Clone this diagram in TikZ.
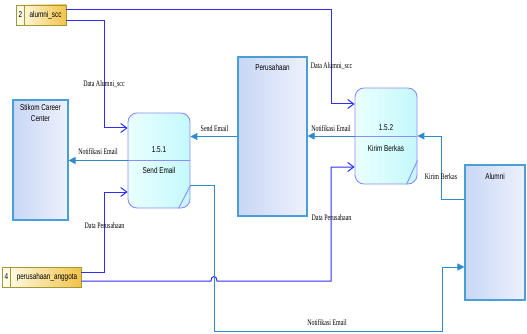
\documentclass[tikz,border=0pt]{standalone}
\usepackage{fontspec}
\newfontfamily\lblfont[FakeStretch=0.7]{Liberation Serif}
\newfontfamily\nfont[FakeStretch=0.75]{Liberation Sans}
\usetikzlibrary{arrows.meta,calc}
\definecolor{entline}{HTML}{4A9FD8}
\definecolor{entA}{HTML}{C8D7F5}
\definecolor{entB}{HTML}{EEF1FC}
\definecolor{procline}{HTML}{8C8CFF}
\definecolor{procA}{HTML}{EAFFFF}
\definecolor{procB}{HTML}{C4F8FC}
\definecolor{dsline}{HTML}{A09A30}
\definecolor{dsA}{HTML}{FFFFF2}
\definecolor{dsB}{HTML}{F2C34A}
\definecolor{dcol}{HTML}{2E2EF8}
\definecolor{ecol}{HTML}{2E8ACB}
\tikzset{
  entity/.style={draw=entline, line width=1.1pt, left color=entA, right color=entB, inner sep=0pt},
  proc/.style={draw=procline, line width=0.9pt, rounded corners=9pt, left color=procA, right color=procB, inner sep=0pt},
  store/.style={draw=dsline, line width=0.9pt, left color=dsA, right color=dsB, inner sep=0pt},
  txt/.style={font=\nfont\fontsize{8.5}{10}\selectfont, inner sep=0pt, align=center},
  lbl/.style={font=\lblfont\fontsize{8.5}{10}\selectfont, inner sep=0pt},
  dflow/.style={draw=dcol, line width=1pt, -{Straight Barb[length=6pt,width=9pt,line width=1pt]}},
  eflow/.style={draw=ecol, line width=1pt, -{Triangle[length=7pt,width=7pt]}},
}
\begin{document}
\begin{tikzpicture}[x=1pt,y=-1pt]
\useasboundingbox (0,0) rectangle (527,334);
\clip (0,0) rectangle (527,334);
% entities
\node[entity, minimum width=55pt, minimum height=120pt] (ent1) at (40.5,160) {};
\node[txt, anchor=north] (ent1t) at (40.5,104) {Stikom Career\\[1pt]Center};
\node[entity, minimum width=69pt, minimum height=159pt] (ent2) at (272.5,136.5) {};
\node[txt] (ent2t) at (272.5,67) {Perusahaan};
\node[entity, minimum width=60pt, minimum height=135pt] (ent3) at (495,232.5) {};
\node[txt] (ent3t) at (495,176) {Alumni};
% processes
\node[proc, minimum width=62pt, minimum height=95pt] (p1) at (159,160.5) {};
\draw[procline, line width=0.9pt] (p1.west) -- (p1.east);
\draw[procline, line width=0.9pt] ([xshift=-12pt]p1.south east) -- ([yshift=23pt]p1.south east);
\node[txt] (p1n) at (159,150) {1.5.1};
\node[txt] (p1t) at (159,170.5) {Send Email};
\node[proc, minimum width=62pt, minimum height=96pt] (p2) at (386,136) {};
\draw[procline, line width=0.9pt] (p2.west) -- (p2.east);
\draw[procline, line width=0.9pt] ([xshift=-11pt]p2.south east) -- ([yshift=24pt]p2.south east);
\node[txt] (p2n) at (386,128) {1.5.2};
\node[txt] (p2t) at (386,148.5) {Kirim Berkas};
% data stores
\node[store, minimum width=50pt, minimum height=20pt] (ds1) at (41,15) {};
\draw[dsline, line width=0.9pt] ([xshift=8.5pt]ds1.north west) -- ([xshift=8.5pt]ds1.south west);
\node[txt] (ds1n) at (20.3,15) {2};
\node[txt] (ds1t) at (45.5,15) {alumni\_scc};
\node[store, minimum width=79pt, minimum height=20pt] (ds2) at (41.5,277) {};
\draw[dsline, line width=0.9pt] ([xshift=8.7pt]ds2.north west) -- ([xshift=8.7pt]ds2.south west);
\node[txt] (ds2n) at (6.4,277) {4};
\node[txt] (ds2t) at (47,277) {perusahaan\_anggota};
% flows
\draw[dflow] ([yshift=-6pt]ds1.east) -- ++(38.5,0) |- ([yshift=32.5pt]p1.west);
\draw[dflow] ([yshift=5pt]ds1.east) -- ++(265,0) |- ([yshift=32pt]p2.west);
\draw[dflow] ([yshift=5pt]ds2.east) -- ++(23,0) |- ([yshift=-31.5pt]p1.west);
\draw[dflow] ([yshift=-4pt]ds2.east) -- (211,281) .. controls +(0,-6) and +(0,-6) .. (217,281) -- (331,281) |- ([yshift=-31pt]p2.west);
\draw[eflow] (ent2.west) -- (ent2.west -| p1.east);
\draw[eflow] (p2.west) -- (p2.west -| ent2.east);
\draw[eflow] ([yshift=33.5pt]ent3.west) -- ++(-23,0) |- (p2.east);
\draw[eflow] (p1.west) -- (p1.west -| ent1.east);
\draw[eflow] ([yshift=-24.5pt]p1.east) -- ++(24,0) -- ++(0,146) -- ++(228,0) |- ([yshift=-34.5pt]ent3.west);
% labels
\node[lbl] (l1) at (104,84) {Data Alumni\_scc};
\node[lbl] (l2) at (331.5,66) {Data Alumni\_scc};
\node[lbl] (l3) at (214.5,129) {Send Email};
\node[lbl] (l4) at (98,152) {Notifikasi Email};
\node[lbl] (l5) at (104.5,226) {Data Perusahaan};
\node[lbl] (l6) at (331,129) {Notifikasi Email};
\node[lbl] (l7) at (441,177) {Kirim Berkas};
\node[lbl] (l8) at (331.5,218) {Data Perusahaan};
\node[lbl] (l9) at (327,323) {Notifikasi Email};
\end{tikzpicture}
\end{document}
